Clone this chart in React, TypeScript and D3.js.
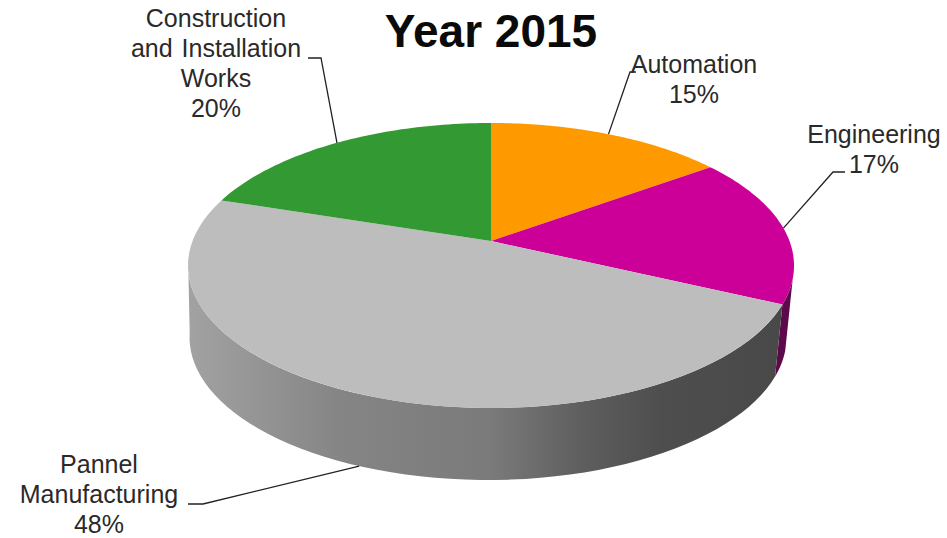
import * as d3 from "d3";

const categories = ["Automation", "Engineering", "Pannel Manufacturing", "Construction and Installation Works"];
const shares = [15, 17, 48, 20];
const colors = ["#ff9900", "#cc0099", "#bdbdbd", "#339933"];
const labelLines = [
    ["Automation", "15%"],
    ["Engineering", "17%"],
    ["Pannel", "Manufacturing", "48%"],
    ["Construction", "and Installation", "Works", "20%"],
];
// label centre x, first baseline y
const labelPos = [[694, 73], [874, 143], [99, 473], [216, 27]];
// leader elbows, from the label side to the pie
const elbows = [
    [[636, 72], [630, 72]],
    [[845, 172], [833, 172]],
    [[188, 504], [203, 504]],
    [[308, 58], [321, 58]],
];
const wallStops = [
    ["0%", "#a2a2a2"], ["25%", "#858585"], ["50%", "#7a7a7a"],
    ["65%", "#5e5e5e"], ["78%", "#4e4e4e"], ["100%", "#484848"],
];

const W = 947, H = 538;
const cx = 491, cy = 241;
const depth = 72;
const persp = 0.172, ry = 138.3, rx = 298.5;
// the lower rim sits a bit narrower and further left than the top face
const rimShift = -3, rimScale = 0.985;

// tilted disc: unit circle pushed through a perspective projection
const project = ( a: number ): [ number, number ] =>
{
    const u = Math.sin( a ), v = Math.cos( a );
    const k = 1 + persp * v;
    return [ cx + rx * u / k, cy - ry * v / k ];
};

const projectRim = ( a: number ): [ number, number ] =>
{
    const [ x, y ] = project( a );
    return [ cx + rimShift + ( x - cx ) * rimScale, y + depth ];
};

const arcPoints = ( a0: number, a1: number, fn = project ) =>
    d3.range( 0, 61 ).map( ( i ) => fn( a0 + ( a1 - a0 ) * i / 60 ) );

const line = d3.line();
const slices = d3.pie<number>().sort( null )( shares );
const rad = ( deg: number ) => deg * Math.PI / 180;

const wallPath = ( a0: number, a1: number ) =>
    line( [ ...arcPoints( a0, a1 ), ...arcPoints( a0, a1, projectRim ).reverse() ] ) + "Z";

const font = "'Liberation Sans', Arial, sans-serif";

export default function App ()
{
    const engineering = slices[ 1 ], pannel = slices[ 2 ];
    return (
        <svg width={ W } height={ H } style={ { position: "absolute", left: 0, top: 0, background: "#fff" } }>
            <defs>
                <linearGradient id="wall" gradientUnits="userSpaceOnUse" x1={ 188 } x2={ 795 } y1={ 0 } y2={ 0 }>
                    { wallStops.map( ( [ o, c ] ) => <stop key={ o } offset={ o } stopColor={ c } /> ) }
                </linearGradient>
            </defs>

            {/* side walls */}
            <path d={ wallPath( rad( 105 ), engineering.endAngle ) } fill="#5c0a4c" />
            <path d={ wallPath( pannel.startAngle, rad( 262 ) ) } fill="url(#wall)" />

            {/* top face */}
            { slices.map( ( s, i ) => (
                <path key={ categories[ i ] }
                    d={ line( [ [ cx, cy ], ...arcPoints( s.startAngle, s.endAngle ) ] ) + "Z" }
                    fill={ colors[ i ] } />
            ) ) }

            {/* leaders */}
            { slices.map( ( s, i ) =>
            {
                const mid = ( s.startAngle + s.endAngle ) / 2;
                const anchor = Math.cos( mid ) < 0 ? projectRim( mid ) : project( mid );
                return <path key={ i } d={ line( [ ...elbows[ i ], anchor ] as [ number, number ][] ) ?? "" }
                    fill="none" stroke="#222" strokeWidth={ 1.3 } />;
            } ) }

            {/* labels */}
            { labelLines.map( ( lines, i ) => (
                <text key={ i } textAnchor="middle" fontFamily={ font } fontSize={ 25 } fill="#2a2a2a" wordSpacing={ 2 }>
                    { lines.map( ( t, j ) => (
                        <tspan key={ j } x={ labelPos[ i ][ 0 ] } y={ labelPos[ i ][ 1 ] + j * 30 }>{ t }</tspan>
                    ) ) }
                </text>
            ) ) }

            <text x={ 491 } y={ 47 } textAnchor="middle" fontFamily={ font } fontSize={ 46 } fontWeight="bold" fill="#0a0a0a">
                Year 2015
            </text>
        </svg>
    );
}
